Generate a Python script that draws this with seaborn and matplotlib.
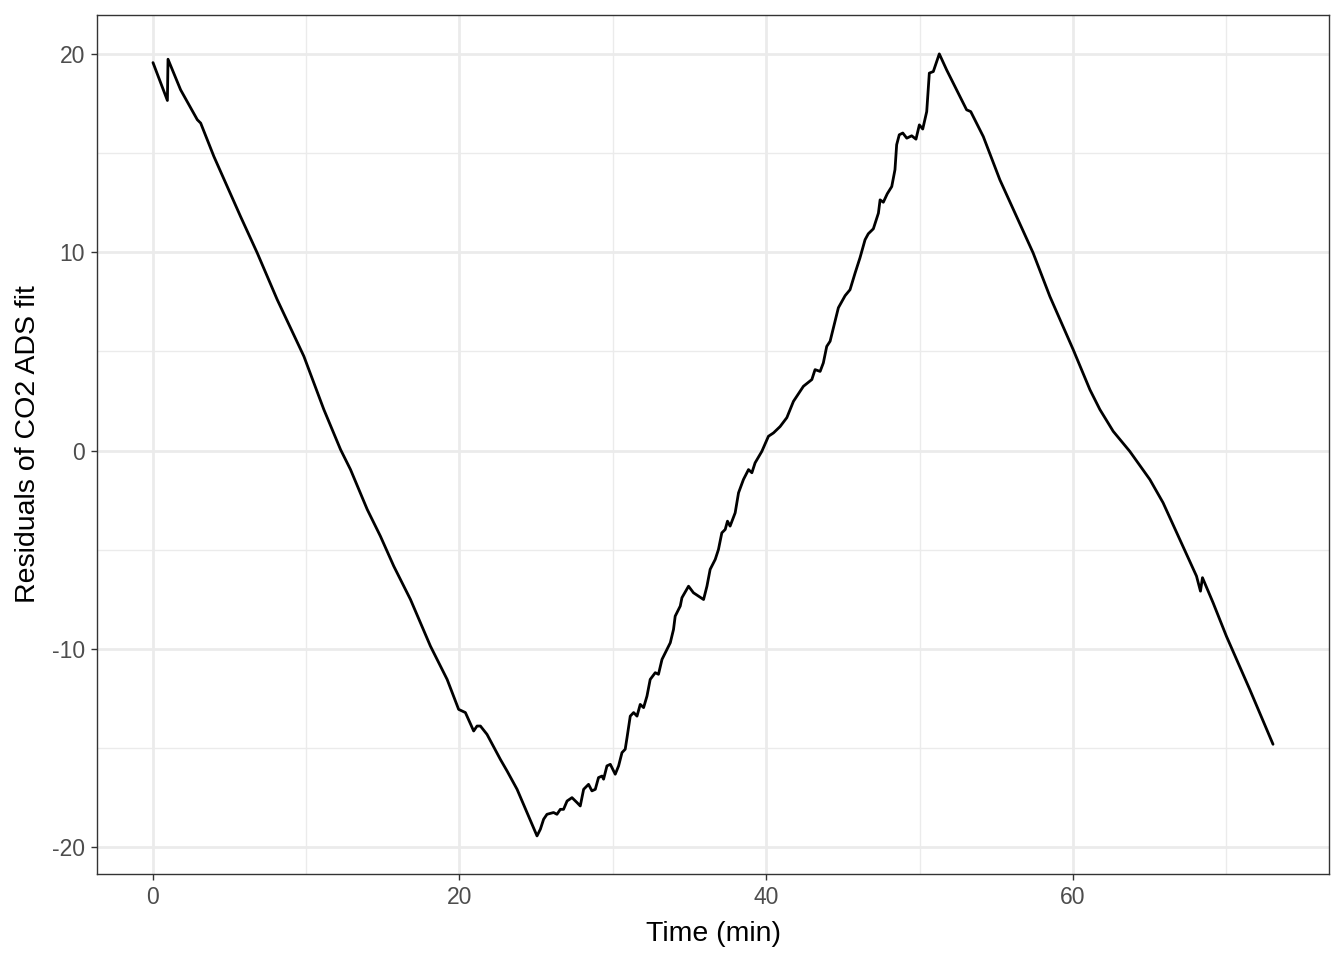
import matplotlib
matplotlib.use("Agg")
import matplotlib.pyplot as plt
import seaborn as sns
import pandas as pd
from matplotlib.ticker import MultipleLocator

time_min = [0.02, 0.96, 1.00, 1.82, 2.91, 3.13, 3.99, 5.73, 6.82, 8.12,
            9.86, 11.16, 12.25, 12.90, 13.99, 14.85, 15.72, 16.81, 18.11, 19.20,
            19.95, 20.39, 20.93, 21.15, 21.37, 21.80, 22.67, 23.11, 23.76, 24.41,
            25.06, 25.28, 25.49, 25.71, 26.14, 26.36, 26.58, 26.79, 27.02, 27.34,
            27.67, 27.88, 28.10, 28.42, 28.64, 28.86, 29.07, 29.30, 29.40, 29.62,
            29.84, 30.16, 30.38, 30.60, 30.81, 30.93, 31.14, 31.36, 31.58, 31.79,
            32.01, 32.23, 32.44, 32.77, 32.98, 33.21, 33.53, 33.75, 33.96, 34.07,
            34.40, 34.51, 34.94, 35.26, 35.59, 35.92, 36.14, 36.35, 36.68, 36.89,
            37.11, 37.33, 37.48, 37.65, 37.98, 38.20, 38.52, 38.85, 39.07, 39.28,
            39.72, 40.15, 40.48, 40.91, 41.35, 41.78, 42.43, 42.98, 43.19, 43.52,
            43.73, 43.95, 44.17, 44.50, 44.71, 45.15, 45.47, 45.80, 46.12, 46.45,
            46.66, 46.99, 47.32, 47.43, 47.64, 47.90, 48.19, 48.40, 48.51, 48.68,
            48.91, 49.17, 49.49, 49.77, 49.99, 50.21, 50.47, 50.64, 50.90, 51.29,
            51.77, 52.42, 53.07, 53.34, 54.16, 55.24, 56.33, 57.41, 58.50, 60.02,
            61.11, 61.76, 62.63, 63.71, 65.02, 65.88, 66.97, 68.06, 68.32, 68.45,
            69.14, 70.01, 71.53, 73.05]

residuals = [19.56, 17.65, 19.73, 18.19, 16.68, 16.51, 14.83, 11.80, 9.96, 7.61,
             4.75, 2.07, 0.05, -0.96, -2.97, -4.32, -5.83, -7.51, -9.86, -11.54,
             -13.05, -13.21, -14.14, -13.89, -13.89, -14.31, -15.57, -16.16, -17.08, -18.25,
             -19.43, -19.09, -18.59, -18.34, -18.25, -18.34, -18.09, -18.09, -17.67, -17.50,
             -17.75, -17.92, -17.08, -16.83, -17.16, -17.08, -16.49, -16.41, -16.57, -15.90,
             -15.82, -16.32, -15.90, -15.23, -15.06, -14.47, -13.39, -13.21, -13.39, -12.80,
             -12.96, -12.38, -11.54, -11.20, -11.28, -10.53, -10.03, -9.69, -9.02, -8.35,
             -7.84, -7.42, -6.84, -7.17, -7.34, -7.51, -6.84, -5.99, -5.49, -4.99,
             -4.15, -3.98, -3.56, -3.81, -3.14, -2.13, -1.46, -0.96, -1.12, -0.62,
             -0.04, 0.72, 0.89, 1.21, 1.66, 2.48, 3.24, 3.58, 4.08, 3.99,
             4.42, 5.25, 5.51, 6.55, 7.20, 7.81, 8.11, 8.95, 9.72, 10.63,
             10.93, 11.18, 11.97, 12.64, 12.52, 12.95, 13.31, 14.16, 15.42, 15.92,
             16.01, 15.75, 15.87, 15.70, 16.42, 16.21, 17.09, 19.03, 19.11, 20.00,
             19.19, 18.19, 17.18, 17.09, 15.83, 13.65, 11.80, 9.96, 7.77, 5.09,
             3.07, 2.07, 0.97, -0.04, -1.46, -2.63, -4.48, -6.33, -7.09, -6.41,
             -7.67, -9.36, -12.04, -14.81]

x_ticks = [0, 20, 40, 60]
y_ticks = [-20, -10, 0, 10, 20]

df = pd.DataFrame({"Time (min)": time_min, "Residuals of CO2 ADS fit": residuals})

sns.set_theme(style="white")
plt.rcParams["font.family"] = ["Liberation Sans", "DejaVu Sans"]

fig = plt.figure(figsize=(13.44, 9.6), dpi=100)
ax = fig.add_axes([97/1344, 1-874/960, (1329-97)/1344, (874-15)/960])

sns.lineplot(data=df, x="Time (min)", y="Residuals of CO2 ADS fit", ax=ax,
             color="black", linewidth=2.0, estimator=None, sort=False)

ax.set_xlim(-3.63, 76.7)
ax.set_ylim(-21.35, 21.96)
ax.set_xticks(x_ticks)
ax.set_yticks(y_ticks)
ax.set_xticklabels([str(v) for v in x_ticks])
ax.set_yticklabels([str(v) for v in y_ticks])
ax.xaxis.set_minor_locator(MultipleLocator(10))
ax.yaxis.set_minor_locator(MultipleLocator(5))

ax.grid(True, which="major", color="#EBEBEB", linewidth=2.0)
ax.grid(True, which="minor", color="#EBEBEB", linewidth=1.0)
ax.set_axisbelow(True)

for s in ax.spines.values():
    s.set_color("#333333")
    s.set_linewidth(1.0)

ax.tick_params(axis="both", which="major", length=4, width=1.0, color="#333333",
               labelsize=16.5, labelcolor="#4D4D4D", pad=4.5, direction="out",
               bottom=True, left=True)
ax.tick_params(axis="both", which="minor", length=0)

ax.set_xlabel("Time (min)", fontsize=20.5, color="black", labelpad=9)
ax.set_ylabel("Residuals of CO2 ADS fit", fontsize=20.5, color="black", labelpad=8)

fig.savefig("out.png", dpi=100, facecolor="white")
